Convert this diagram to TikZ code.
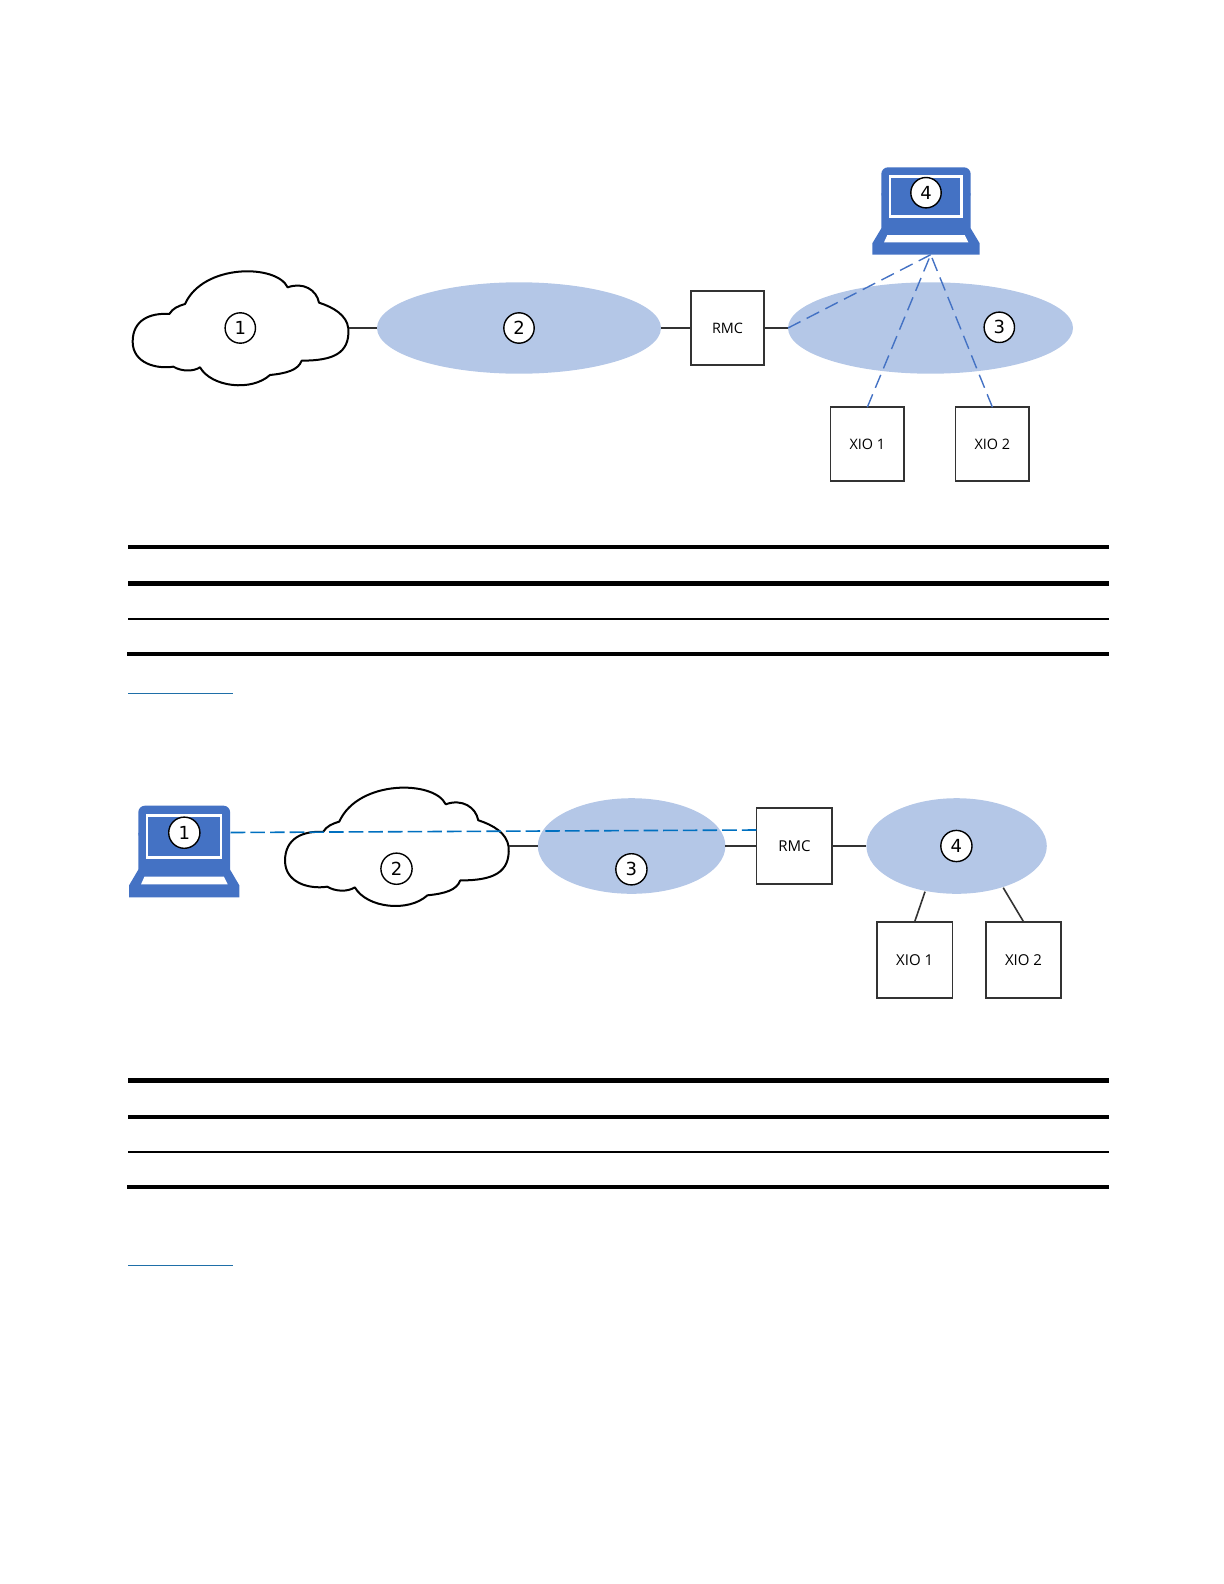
\documentclass[tikz,border=0pt]{standalone}
\usepackage{fontspec}
\setmainfont{Open Sans}
\newfontfamily\digitfont{DejaVu Sans}
\usetikzlibrary{shapes.geometric}
\definecolor{ovalblue}{HTML}{B4C7E7}
\definecolor{lapblue}{HTML}{4472C4}
\definecolor{dashblue}{HTML}{0070C0}
\definecolor{linkblue}{HTML}{1F6FA8}
\definecolor{wireink}{HTML}{333333}
\newcommand{\cloudoutline}[1]{%
  \draw[cloudline,#1] (685,535) .. controls (680,495) and (640,472) .. (597,458)
    .. controls (590,420) and (550,395) .. (503,412)
    .. controls (470,342) and (250,340) .. (195,462)
    .. controls (175,468) and (158,475) .. (148,492)
    .. controls (90,488) and (38,510) .. (38,575)
    .. controls (38,640) and (110,658) .. (160,650)
    .. controls (185,665) and (220,665) .. (240,652)
    .. controls (275,712) and (395,725) .. (450,675)
    .. controls (500,670) and (535,660) .. (545,632)
    .. controls (640,632) and (690,610) .. cycle;}
\newcommand{\laptopshape}[1]{%
  \begin{scope}[#1]
    \fill[lapblue,rounded corners=3.3pt] (664,150) -- (664,52) -- (932,52) -- (932,150) -- cycle;
    \fill[lapblue] (664,130) -- (664,235) -- (637,280) -- (637,314) -- (959,314) -- (959,280) -- (932,235) -- (932,130) -- cycle;
    \draw[white,line width=1.3pt] (690,80) rectangle (905,200);
    \fill[white] (682,255) -- (914,255) -- (925,277) -- (672,277) -- cycle;
  \end{scope}}
\tikzset{
  cloudline/.style={draw=black,fill=white,line width=1pt,line join=round},
  cloudbox/.style={inner sep=0pt,outer sep=0pt},
  oval/.style={ellipse,fill=ovalblue,inner sep=0pt,outer sep=0pt},
  boxA/.style={draw=wireink,fill=white,line width=0.85pt,inner sep=0pt,outer sep=0pt,minimum width=36.8pt,minimum height=36.8pt,font=\fontsize{7.2}{8}\selectfont},
  boxB/.style={draw=wireink,fill=white,line width=0.85pt,inner sep=0pt,outer sep=0pt,minimum width=37.8pt,minimum height=38pt,font=\fontsize{7.5}{8}\selectfont},
  badge/.style={circle,draw=black,fill=white,line width=0.7pt,inner sep=0pt,minimum size=15.2pt,font=\digitfont\fontsize{9}{9}\selectfont},
  wire/.style={draw=wireink,line width=0.8pt},
  dashA/.style={draw=lapblue,line width=0.7pt,dash pattern=on 7pt off 3.5pt},
  dashB/.style={draw=dashblue,line width=0.8pt,dash pattern=on 7.3pt off 2.53pt},
  heavy/.style={draw=black,line cap=butt},
  link/.style={draw=linkblue,line width=0.5pt}
}
\begin{document}
\begin{tikzpicture}[x=0.5pt,y=-0.5pt]
\useasboundingbox (0,0) rectangle (1224,1584);

% ---------- upper diagram ----------
\begin{scope}[shift={(120,150)},scale=1/3]\cloudoutline{}\end{scope}
\node[cloudbox,minimum width=108pt,minimum height=57pt] (cloudA) at (240.85,328) {};
\node[oval,minimum width=142pt,minimum height=45.7pt] (ovalAa) at (519,328) {};
\node[oval,minimum width=142.5pt,minimum height=45.7pt] (ovalAb) at (930.5,328) {};
\node[boxA] (rmcA) at (727.5,328) {RMC};
\node[boxA] (xioAa) at (867.3,444) {XIO 1};
\node[boxA] (xioAb) at (992.4,444) {XIO 2};
\laptopshape{shift={(660,150)},scale=1/3}
\coordinate (apexA) at (930.7,254.7);
\draw[wire] (cloudA.east) -- (ovalAa.west);
\draw[wire] (ovalAa.east) -- (rmcA.west);
\draw[wire] (rmcA.east) -- (ovalAb.west);
\draw[dashA] (ovalAb.west) -- (apexA);
\draw[dashA] (xioAa.north) -- (apexA);
\draw[dashA] (xioAb.north) -- (apexA);
\node[badge] (numAa) at (240.3,328) {1};
\node[badge] (numAb) at (519,328) {2};
\node[badge] (numAc) at (999.3,327.3) {3};
\node[badge] (numAd) at (926,192.7) {4};

% ---------- rules, upper ----------
\draw[heavy,line width=2.15pt] (128,546.8) -- (1109,546.8);
\draw[heavy,line width=2.35pt] (128,583.3) -- (1109,583.3);
\draw[heavy,line width=1pt] (128,619) -- (1109,619);
\draw[heavy,line width=2pt] (127,654) -- (1109,654);
\draw[link] (128,693.3) -- (233,693.3);

% ---------- lower diagram ----------
\begin{scope}[shift={(271.9,661.7)},xscale=0.3456,yscale=0.3461]\cloudoutline{}\end{scope}
\node[cloudbox,minimum width=112pt,minimum height=59.4pt] (cloudB) at (397.15,846) {};
\node[oval,minimum width=93.8pt,minimum height=47.8pt] (ovalBa) at (631.6,846) {};
\node[oval,minimum width=90.2pt,minimum height=47.8pt] (ovalBb) at (956.6,846) {};
\node[boxB] (rmcB) at (794.4,846) {RMC};
\node[boxB] (xioBa) at (914.7,959.7) {XIO 1};
\node[boxB] (xioBb) at (1023.5,959.7) {XIO 2};
\laptopshape{shift={(-89.2,787.5)},xscale=0.3426,yscale=0.3496}
\coordinate (lapEnd) at (230.7,832.5);
\coordinate (rmcEntry) at (756.4,830);
\coordinate (ovalFootL) at (925,891.7);
\coordinate (ovalFootR) at (1003.2,887.7);
\draw[wire] (cloudB.east) -- (ovalBa.west);
\draw[wire] (ovalBa.east) -- (rmcB.west);
\draw[wire] (rmcB.east) -- (ovalBb.west);
\draw[wire] (ovalFootL) -- (xioBa.north);
\draw[wire] (ovalFootR) -- (xioBb.north);
\draw[dashB] (lapEnd) -- (rmcEntry);
\node[badge,minimum size=15.6pt] (numBa) at (184.3,832.7) {1};
\node[badge,minimum size=15.6pt] (numBb) at (396.5,868.7) {2};
\node[badge,minimum size=15.6pt] (numBc) at (631.4,869.3) {3};
\node[badge,minimum size=15.6pt] (numBd) at (956.4,846) {4};

% ---------- rules, lower ----------
\draw[heavy,line width=2.5pt] (128,1080.5) -- (1109,1080.5);
\draw[heavy,line width=2pt] (128,1117) -- (1109,1117);
\draw[heavy,line width=1pt] (128,1151.7) -- (1109,1151.7);
\draw[heavy,line width=2pt] (127,1187) -- (1109,1187);
\draw[link] (128,1265.3) -- (233,1265.3);
\end{tikzpicture}
\end{document}
